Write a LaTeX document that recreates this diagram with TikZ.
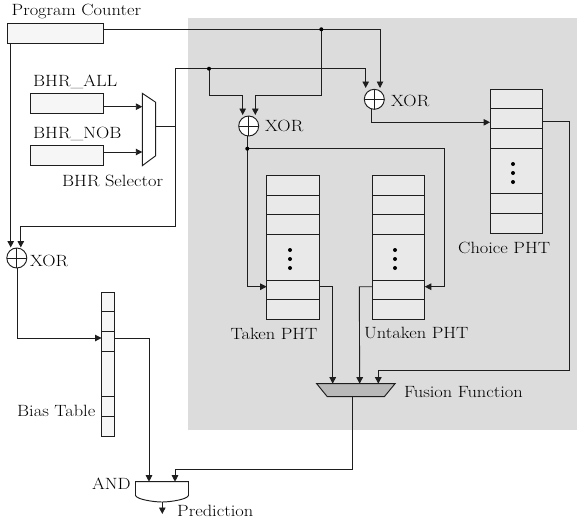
\documentclass[tikz,border=0pt]{standalone}
\usepackage{fontspec}
\setmainfont{Latin Modern Roman}[FakeStretch=1.13]
\usetikzlibrary{arrows.meta,calc}
\definecolor{panel}{HTML}{DCDCDC}
\definecolor{lightcell}{HTML}{F6F6F6}
\definecolor{cellgray}{HTML}{E9E9E9}
\definecolor{fusiongray}{HTML}{B9B9B9}
\definecolor{ink}{HTML}{1E1E1E}
\tikzset{
  wire/.style={draw=ink,line width=0.9pt},
  arrow/.style={wire,-{Triangle[length=6.5pt,width=6.5pt]}},
  reg/.style={draw=ink,line width=0.95pt,fill=lightcell,inner sep=0pt,outer sep=0pt},
  pht/.style={draw=ink,line width=0.95pt,fill=cellgray,inner sep=0pt,outer sep=0pt,minimum width=52.7pt,minimum height=144.3pt},
  xorgate/.style={circle,draw=ink,line width=0.95pt,fill=white,minimum size=20pt,inner sep=0pt,outer sep=0pt},
  lbl/.style={anchor=west,inner sep=0pt,text=black,font=\fontsize{16.3}{18}\selectfont},
  jdot/.style={circle,fill=black,minimum size=4pt,inner sep=0pt},
  vdot/.style={circle,fill=black,minimum size=4pt,inner sep=0pt}
}
\begin{document}
\begin{tikzpicture}[x=1pt,y=-1pt]
\useasboundingbox (0,0) rectangle (577,520);
\fill[panel] (188,18) rectangle (577,430);
% registers
\node[reg,minimum width=95.7pt,minimum height=20pt] (pc) at (55.2,33) {};
\node[reg,minimum width=72.5pt,minimum height=20pt] (bhrall) at (66.8,103) {};
\node[reg,minimum width=72.5pt,minimum height=20pt] (bhrnob) at (66.8,155) {};
\node[reg,minimum width=12.5pt,minimum height=144pt] (bias) at (107.8,364) {};
\foreach \y in {311.7,331,351,396.7,416.3}
  \draw[ink,line width=0.95pt] (bias.west |- 0,\y) -- (bias.east |- 0,\y);
% PHTs
\node[pht] (taken) at (293,247.2) {};
\node[pht] (untaken) at (398.4,247.2) {};
\node[pht] (choice) at (516.4,161.3) {};
\foreach \y in {195,214.7,234.3,280,299.7}{
  \draw[ink,line width=0.95pt] (taken.west |- 0,\y) -- (taken.east |- 0,\y);
  \draw[ink,line width=0.95pt] (untaken.west |- 0,\y) -- (untaken.east |- 0,\y);
}
\foreach \y in {108.7,128.3,148,193.7,213.7}
  \draw[ink,line width=0.95pt] (choice.west |- 0,\y) -- (choice.east |- 0,\y);
\foreach \n/\x/\a/\b/\c in {a/290/250/259/268,b/395/250/259/268,c/513/164/173/182}{
  \node[vdot] (v\n1) at (\x,\a) {};
  \node[vdot] (v\n2) at (\x,\b) {};
  \node[vdot] (v\n3) at (\x,\c) {};
}
% XOR gates
\node[xorgate] (xa) at (248.7,126) {};
\node[xorgate] (xb) at (374.3,99.3) {};
\node[xorgate] (xc) at (16.8,258) {};
\foreach \g in {xa,xb,xc}
  \draw[ink,line width=0.95pt] (\g.north) -- (\g.south) (\g.west) -- (\g.east);
% mux, fusion, AND
\draw[ink,line width=0.95pt,fill=white] (142.3,93.3) coordinate (mtl) -- (155.7,102.3) -- (155.7,155.7) -- (142.3,165.7) coordinate (mbl) -- cycle;
\draw[ink,line width=0.95pt,fill=fusiongray] (316.7,383.7) -- (395,383.7) -- (384.3,396.7) -- (327.3,396.7) -- cycle;
\draw[ink,line width=0.95pt,fill=white] (135.5,481.7) -- (188.5,481.7) -- (188.5,495.5) .. controls (187,499.5) and (170,502) .. (162,502) .. controls (154,502) and (137,499.5) .. (135.5,495.5) -- cycle;
% ports
\coordinate (muxin1) at (142.3,106.7);
\coordinate (muxin2) at (142.3,152);
\coordinate (muxout) at (155.7,126);
\coordinate (fusout) at (352,396.7);
\coordinate (andtop1) at (149,481.7);
\coordinate (andtop2) at (175,481.7);
\coordinate (andout) at (162.3,502);
\coordinate (predend) at (162.3,514);
\coordinate (jpc) at (321.3,29.3);
\coordinate (jbhr) at (209,68.7);
\coordinate (jx) at (247.3,148.7);
% connectors
\draw[arrow] (bhrall.east |- muxin1) -- (muxin1);
\draw[arrow] (bhrnob.east |- muxin2) -- (muxin2);
\draw[wire] (muxout) -- (175,126);
\draw[arrow] (175,68.7) -- (175,226) -- (20.8,226) -- (20.8,247.5);
\draw[arrow] (10.7,43) -- (10.7,247.5);
\draw[wire] (175,68.7) -- (jbhr);
\draw[arrow] (jbhr) -- (365.7,68.7) -- (365.7,88);
\draw[arrow] (jbhr) -- (209,95.3) -- (242.7,95.3) -- (242.7,115);
\draw[arrow] (pc.east |- jpc) -- (380,29.3) -- (380,88);
\draw[arrow] (jpc) -- (321.3,95.3) -- (255.3,95.3) -- (255.3,115);
\draw[wire] (247.3,136) -- (jx);
\draw[arrow] (jx) -- (444.3,148.7) -- (444.3,286.7) -- (untaken.east |- 0,286.7);
\draw[arrow] (jx) -- (247.3,286.7) -- (taken.west |- 0,286.7);
\draw[arrow] (371,109.3) -- (371,122.3) -- (choice.west |- 0,122.3);
\draw[arrow] (choice.east |- 0,121.7) -- (569.3,121.7) -- (569.3,370.3) -- (378.3,370.3) -- (378.3,383.7);
\draw[arrow] (taken.east |- 0,286.7) -- (332.7,286.7) -- (332.7,383.7);
\draw[arrow] (untaken.west |- 0,286.7) -- (359.3,286.7) -- (359.7,383.7);
\draw[arrow] (17.3,268) -- (17.3,338) -- (bias.west |- 0,338);
\draw[arrow] (bias.east |- 0,338) -- (149,338) -- (andtop1);
\draw[arrow] (fusout) -- (352,469) -- (175,469) -- (andtop2);
\draw[arrow] (andout) -- (predend);
\node[jdot] at (jpc) {};
\node[jdot] at (jbhr) {};
\node[jdot] at (jx) {};
% labels
\node[lbl] (tpc) at (11.5,11.5) {Program Counter};
\node[lbl] (tall) at (33,82) {BHR\_ALL};
\node[lbl] (tnob) at (33,133.5) {BHR\_NOB};
\node[lbl] (tsel) at (62,181) {BHR Selector};
\node[lbl] (tx1) at (265,126) {XOR};
\node[lbl] (tx2) at (391,100.5) {XOR};
\node[lbl] (tx3) at (30,261) {XOR};
\node[lbl] (tch) at (458,247.5) {Choice PHT};
\node[lbl] (tta) at (230.5,333.5) {Taken PHT};
\node[lbl] (tun) at (364,332.5) {Untaken PHT};
\node[lbl] (tbi) at (17,411) {Bias Table};
\node[lbl] (tfu) at (404,392.5) {Fusion Function};
\node[lbl] (tan) at (92,483.5) {AND};
\node[lbl] (tpr) at (177,510.5) {Prediction};
\end{tikzpicture}
\end{document}
